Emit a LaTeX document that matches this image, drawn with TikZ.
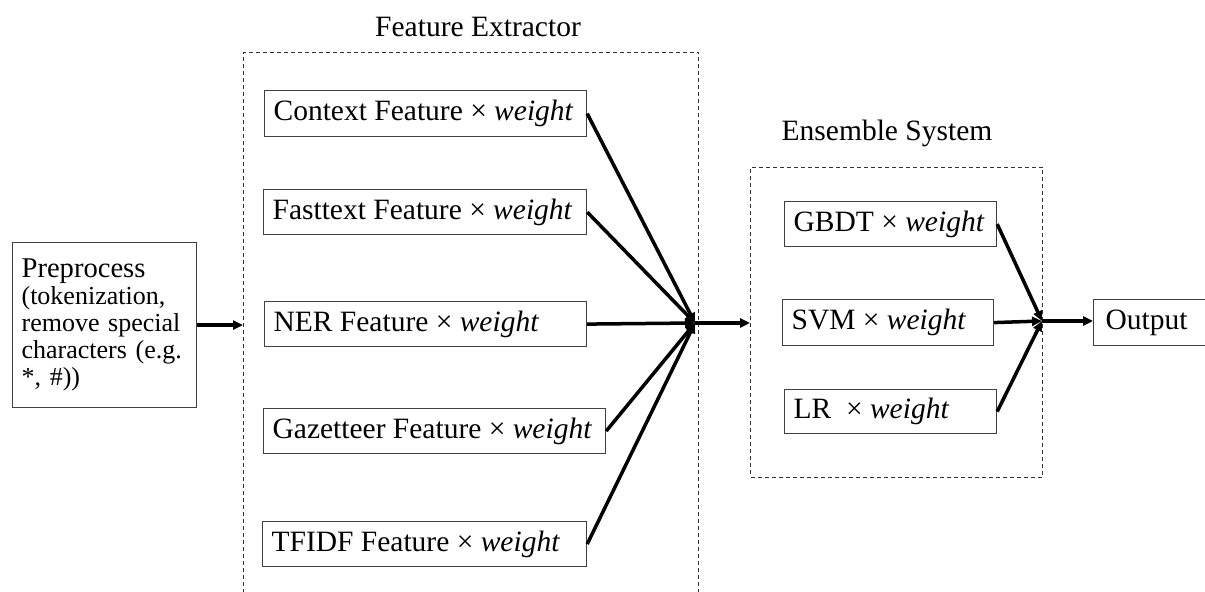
\documentclass[tikz,border=0pt]{standalone}
\usepackage{fontspec}
\setmainfont{Liberation Serif}
\usetikzlibrary{arrows.meta}
\newcommand{\lbox}[2]{\makebox[#1][l]{#2}}
\begin{document}
\begin{tikzpicture}[x=0.5pt,y=-0.5pt,
  fbox/.style={draw=black!75, line width=0.6pt, anchor=north west, inner xsep=4.5pt, inner ysep=0pt, font=\fontsize{14.75}{17}\selectfont},
  dbox/.style={draw=black!80, line width=0.5pt, dash pattern=on 2pt off 1.5pt, anchor=north west, inner sep=0pt},
  conn/.style={line width=1.75pt},
  arr/.style={conn, -{Triangle[length=5pt,width=4.5pt]}},
  titletext/.style={font=\fontsize{14.75}{17}\selectfont, inner sep=0pt}
]
\useasboundingbox (0,0) rectangle (1205,592);
\clip (0,0) rectangle (1205,592);

% titles
\node[titletext] (fetitle) at (478,27) {Feature Extractor};
\node[titletext] (enstitle) at (887,133) {Ensemble\ System};

% dashed containers
\node[dbox, minimum width=227.5pt, minimum height=274pt] (fe) at (243,52) {};
\node[dbox, minimum width=146pt, minimum height=155pt] (ens) at (750,167) {};

% preprocess
\node[fbox, text width=83pt, align=left, minimum height=82.5pt, font=\fontsize{13}{13.5}\selectfont] (pre) at (12,242)
  {{\fontsize{14.3}{13.5}\selectfont Preprocess}\\(tokenization,\\remove special\\characters (e.g.\\{}*, \#))};

% feature boxes
\node[fbox, minimum height=23pt] (ctx) at (264,90) {\lbox{152pt}{Context Feature × \textit{weight}}};
\node[fbox, minimum height=22.5pt] (fast) at (263,189) {\lbox{152.5pt}{Fasttext Feature × \textit{weight}}};
\node[fbox, minimum height=22.5pt] (ner) at (264,301) {\lbox{152pt}{NER Feature × \textit{weight}}};
\node[fbox, minimum height=22.5pt] (gaz) at (263,408) {\lbox{162pt}{Gazetteer Feature × \textit{weight}}};
\node[fbox, minimum height=22.5pt] (tfidf) at (262,521) {\lbox{153pt}{TFIDF Feature × \textit{weight}}};

% ensemble boxes
\node[fbox, minimum height=22.5pt] (gbdt) at (784,201) {\lbox{97pt}{GBDT × \textit{weight}}};
\node[fbox, minimum height=23pt] (svm) at (782,299) {\lbox{96.5pt}{SVM × \textit{weight}}};
\node[fbox, minimum height=22pt] (lr) at (784,389) {\lbox{97pt}{LR\ \ × \textit{weight}}};

% output
\node[fbox, inner xsep=6pt, minimum height=23pt] (out) at (1093,299) {\lbox{58pt}{Output}};

% junctions
\coordinate (c1) at (695,323);
\coordinate (c2) at (1042,321);

% connectors
\draw[arr] (pre.east) -- (pre.east -| fe.west);
\draw[arr] (ctx.east) -- (c1);
\draw[arr] (fast.east) -- (c1);
\draw[arr] (ner.east) -- (c1);
\draw[arr] (gaz.east) -- (c1);
\draw[arr] (tfidf.east) -- (c1);
\draw[arr] (c1) -- (c1 -| ens.west);

\draw[arr] (gbdt.east) -- (c2);
\draw[arr] (svm.east) -- (c2);
\draw[arr] (lr.east) -- (c2);
\draw[arr] (c2) -- (c2 -| out.west);
\end{tikzpicture}
\end{document}
